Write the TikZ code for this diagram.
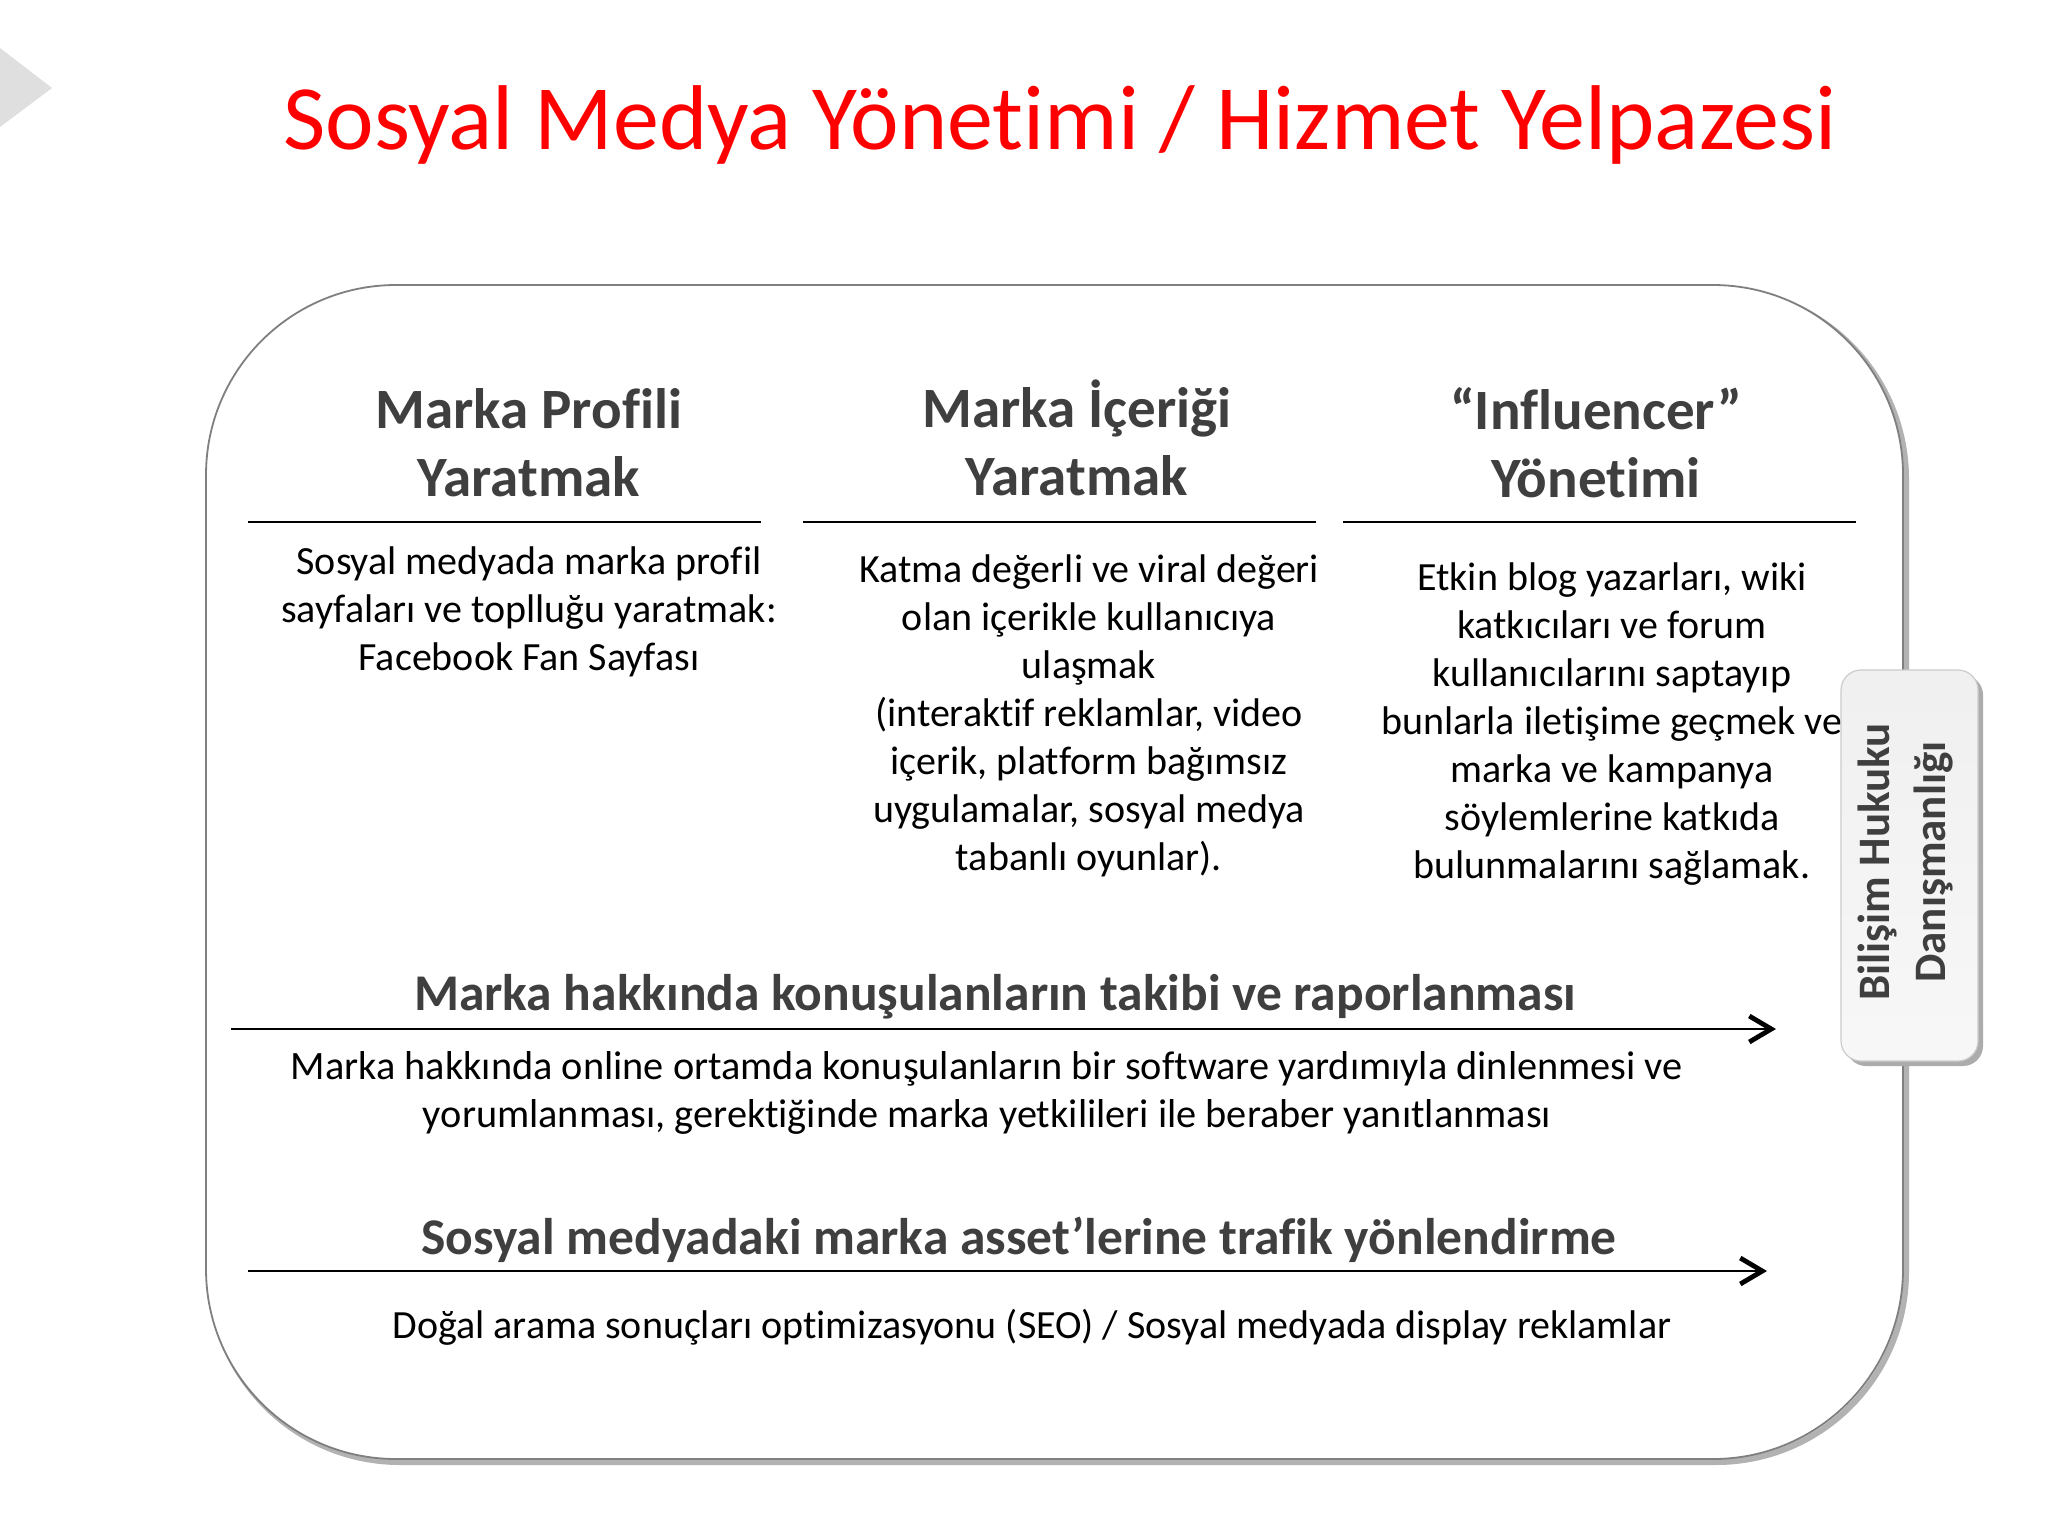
\documentclass[tikz,border=0pt]{standalone}
\usepackage{fontspec}
\setmainfont{Carlito}[Ligatures={NoCommon}]
\usetikzlibrary{arrows.meta}
\definecolor{titlered}{HTML}{FF0000}
\definecolor{headgray}{HTML}{3F3F3F}
\definecolor{boxline}{HTML}{7F7F7F}
\tikzset{
  colhead/.style={text=headgray, font=\fontsize{28.5}{34}\selectfont\bfseries, align=center},
  bodytext/.style={text=black, font=\fontsize{20}{24}\selectfont, align=center},
  rowhead/.style={text=headgray, font=\fontsize{25.75}{30}\selectfont\bfseries, align=center},
  sidetext/.style={text=headgray, font=\fontsize{22.5}{28}\selectfont\bfseries, align=center},
  rule/.style={line width=1pt, black},
  flow/.style={line width=1pt, black, -{Straight Barb[length=11pt,width=13pt,line width=2.4pt]}},
}
\begin{document}
\begin{tikzpicture}[x=0.5pt,y=-0.5pt]
\useasboundingbox (0,0) rectangle (2048,1536);
\fill[white] (0,0) rectangle (2048,1536);
% top-left triangle
\fill[gray!25] (0,48) -- (52,88) -- (0,127) -- cycle;
% title
\node[text=titlered, font=\fontsize{46}{55}\selectfont] (title) at (1060,125) {Sosyal Medya Yönetimi / Hizmet Yelpazesi};
% outer box with shadow
\draw[gray!60, line width=3pt, rounded corners=95pt] (210,289) rectangle (1906,1462);
\draw[boxline, line width=0.9pt, fill=white, rounded corners=95pt] (206,285) rectangle (1903,1459);
% column headings
\node[colhead] (h1) at (529,443) {Marka Profili\\Yaratmak};
\node[colhead] (h2) at (1077,438) {Marka İçeriği\\Yaratmak};
\node[colhead] (h3) at (1596,443) {“Influencer”\\Yönetimi};
\coordinate (r1a) at (248,522); \coordinate (r1b) at (761,522);
\coordinate (r2a) at (803,522); \coordinate (r2b) at (1316,522);
\coordinate (r3a) at (1343,522); \coordinate (r3b) at (1856,522);
\draw[rule] (r1a) -- (r1b);
\draw[rule] (r2a) -- (r2b);
\draw[rule] (r3a) -- (r3b);
% column bodies
\node[bodytext] (b1) at (529,612) {Sosyal medyada marka profil\\sayfaları ve toplluğu yaratmak:\\Facebook Fan Sayfası};
\node[bodytext] (b2) at (1089,716) {Katma değerli ve viral değeri\\olan içerikle kullanıcıya\\ulaşmak\\(interaktif reklamlar, video\\içerik, platform bağımsız\\uygulamalar, sosyal medya\\tabanlı oyunlar).};
\node[bodytext] (b3) at (1612,724) {Etkin blog yazarları, wiki\\katkıcıları ve forum\\kullanıcılarını saptayıp\\bunlarla iletişime geçmek ve\\marka ve kampanya\\söylemlerine katkıda\\bulunmalarını sağlamak.};
% row 1
\node[rowhead] (rh1) at (995,997) {Marka hakkında konuşulanların takibi ve raporlanması};
\coordinate (a1s) at (231,1029); \coordinate (a1e) at (1776,1029);
\draw[flow] (a1s) -- (a1e);
\node[bodytext, font=\fontsize{20.15}{24}\selectfont] (rb1) at (987,1093) {Marka hakkında online ortamda konuşulanların bir software yardımıyla dinlenmesi ve\\yorumlanması, gerektiğinde marka yetkilileri ile beraber yanıtlanması};
% row 2
\node[rowhead] (rh2) at (1019,1240) {Sosyal medyadaki marka asset’lerine trafik yönlendirme};
\coordinate (a2s) at (248,1271); \coordinate (a2e) at (1767,1271);
\draw[flow] (a2s) -- (a2e);
\node[bodytext] (rb2) at (1032,1327) {Doğal arama sonuçları optimizasyonu (SEO) / Sosyal medyada display reklamlar};
% side box
\fill[gray!65, rounded corners=10pt] (1846,675) rectangle (1983,1066);
\shade[top color=gray!12, bottom color=gray!6, draw=gray!40, line width=0.6pt, rounded corners=10pt] (1841,670) rectangle (1978,1061);
\node[sidetext, rotate=90] (side) at (1905,862) {Bilişim Hukuku\\Danışmanlığı};
\end{tikzpicture}
\end{document}
